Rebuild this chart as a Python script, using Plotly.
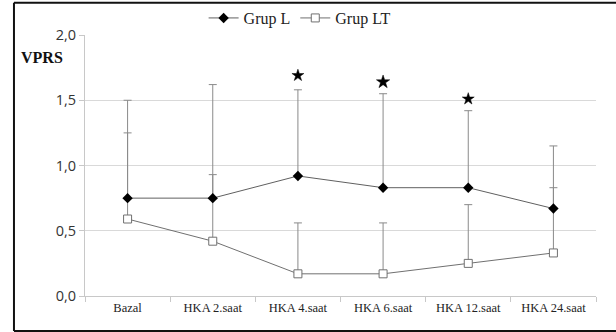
import plotly.graph_objects as go

categories = ["Bazal", "HKA 2.saat", "HKA 4.saat", "HKA 6.saat", "HKA 12.saat", "HKA 24.saat"]
grup_l = [0.75, 0.75, 0.92, 0.83, 0.83, 0.67]
grup_l_upper = [1.50, 1.62, 1.58, 1.55, 1.42, 1.15]
grup_lt = [0.59, 0.42, 0.17, 0.17, 0.25, 0.33]
grup_lt_upper = [1.25, 0.93, 0.56, 0.56, 0.70, 0.83]
star_categories = ["HKA 4.saat", "HKA 6.saat", "HKA 12.saat"]
star_values = [1.69, 1.64, 1.51]
star_sizes = [9, 10, 9]

err_l = [u - v for u, v in zip(grup_l_upper, grup_l)]
err_lt = [u - v for u, v in zip(grup_lt_upper, grup_lt)]

fig = go.Figure()
fig.add_trace(go.Scatter(
    x=categories, y=grup_lt, name="Grup LT", mode="lines+markers",
    line=dict(color="#707070", width=1),
    marker=dict(symbol="square", size=8, color="white", line=dict(color="#707070", width=1)),
    error_y=dict(type="data", array=err_lt, arrayminus=[0]*6, color="#8a8a8a", thickness=1, width=4),
))
fig.add_trace(go.Scatter(
    x=categories, y=grup_l, name="Grup L", mode="lines+markers",
    line=dict(color="#606060", width=1),
    marker=dict(symbol="diamond", size=8, color="black"),
    error_y=dict(type="data", array=err_l, arrayminus=[0]*6, color="#8a8a8a", thickness=1, width=4),
))
fig.add_trace(go.Scatter(
    x=star_categories, y=star_values, mode="markers", showlegend=False,
    marker=dict(symbol="star", size=star_sizes, color="#000000", opacity=1,
                line=dict(width=0.5, color="#000000")),
))

border = dict(type="line", xref="paper", yref="paper", line=dict(color="#111", width=2), layer="below")

fig.update_layout(
    width=616, height=332,
    margin=dict(l=85, r=20, t=35, b=36, autoexpand=False),
    paper_bgcolor="white", plot_bgcolor="white",
    separators=",.",
    showlegend=True,
    legend=dict(orientation="h", x=0.42, xanchor="center", y=1.065, yanchor="middle",
                traceorder="reversed",
                font=dict(family="Liberation Serif", size=16, color="#222"),
                itemwidth=30, bgcolor="rgba(0,0,0,0)"),
    xaxis=dict(
        type="category", range=[-0.5, 5.5],
        showgrid=False, showline=True, linecolor="#c8c8c8", linewidth=1,
        ticks="outside", ticklen=5, tickcolor="#c8c8c8", tickson="boundaries",
        tickfont=dict(family="Liberation Serif", size=12.5, color="#222"),
        zeroline=False,
    ),
    yaxis=dict(
        range=[0, 2.0], dtick=0.5, tickformat=".1f",
        showgrid=True, gridcolor="#d9d9d9", gridwidth=1,
        showline=True, linecolor="#c8c8c8", linewidth=1,
        ticks="outside", ticklen=5, tickcolor="#c8c8c8",
        tickfont=dict(family="Open Sans", size=14.5, color="#333"),
        zeroline=False,
    ),
    annotations=[dict(text="<b>VPRS</b>", xref="paper", yref="paper",
                      x=-0.13, y=0.913, xanchor="left", yanchor="middle", showarrow=False,
                      font=dict(family="Liberation Serif", size=16, color="#111"))],
    shapes=[
        dict(border, x0=-0.139, x1=1.06, y0=1.124, y1=1.124),
        dict(border, x0=-0.139, x1=-0.139, y0=-0.134, y1=1.124),
        dict(border, x0=-0.139, x1=1.06, y0=-0.134, y1=-0.134),
    ],
)

fig.write_html("out.html", config={"displayModeBar": False},
               post_script="document.body.style.margin='0';document.body.style.overflow='hidden';")
